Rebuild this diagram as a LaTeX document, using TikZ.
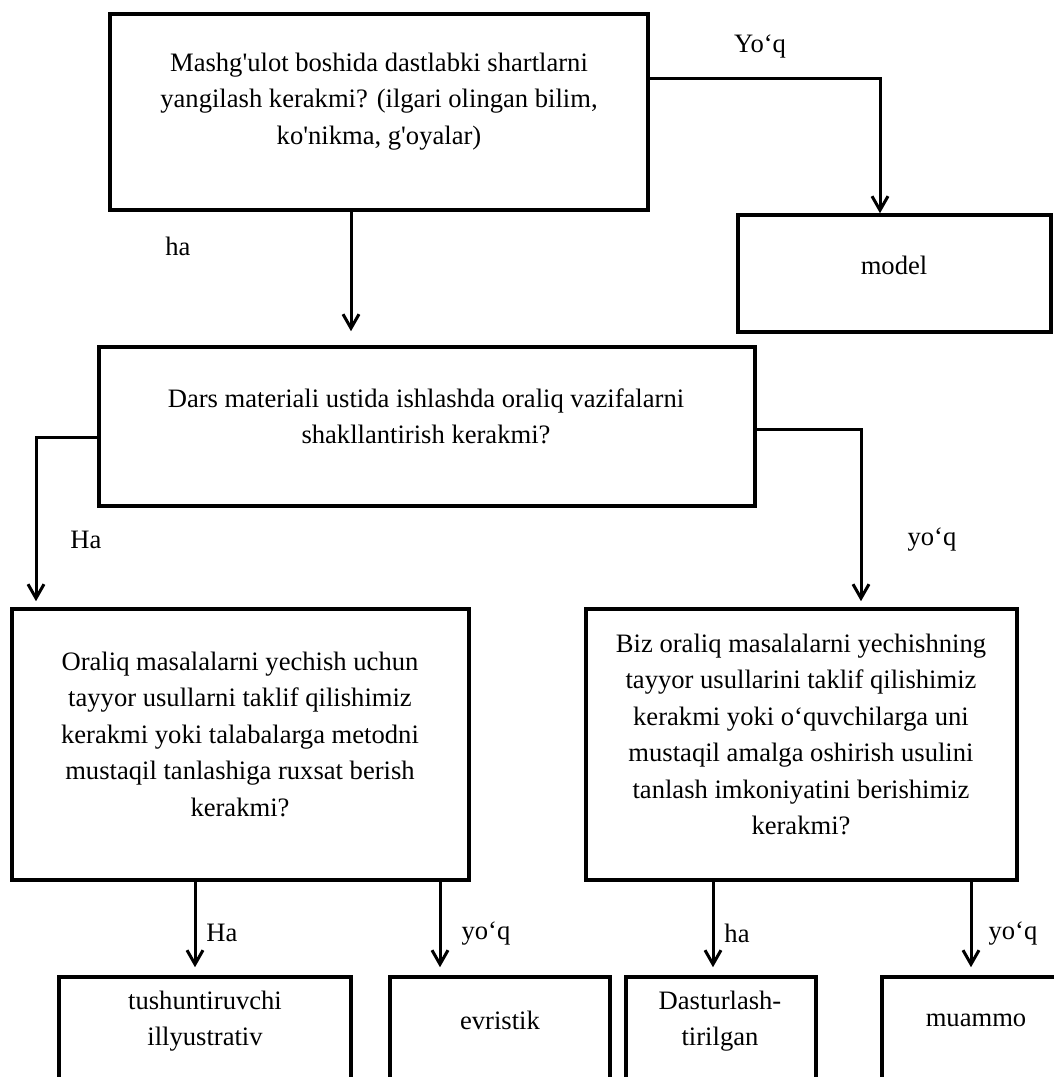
\documentclass[tikz,border=0pt]{standalone}
\usepackage{fontspec}
\setmainfont{Liberation Serif}
\usetikzlibrary{arrows.meta,calc}
\begin{document}
\begin{tikzpicture}[x=1pt,y=-1pt,
  box/.style={draw,line width=3.6pt,rectangle,inner sep=0pt},
  txt/.style={align=center,font=\fontsize{26.6}{36.5}\selectfont,inner sep=0pt},
  lbl/.style={font=\fontsize{26.6}{36.5}\selectfont,inner sep=0pt},
  arr/.style={line width=3pt,-{Straight Barb[length=14pt,width=16pt]}}]
\useasboundingbox (0,0) rectangle (1054,1077);
\fill[white] (0,0) rectangle (1054,1077);
\clip (0,0) rectangle (1054,1077);

% boxes
\node[box,minimum width=538,minimum height=196] (b1) at (379,112) {};
\node[box,minimum width=313,minimum height=117] (b0) at (894.5,273.5) {};
\node[box,minimum width=656,minimum height=159] (b2) at (427,426.5) {};
\node[box,minimum width=457,minimum height=271] (b3) at (240.5,744.5) {};
\node[box,minimum width=431,minimum height=271] (b4) at (801.5,744.5) {};
\node[box,minimum width=292,minimum height=150] (b5) at (205,1052) {};
\node[box,minimum width=220,minimum height=150] (b6) at (500,1052) {};
\node[box,minimum width=190,minimum height=150] (b7) at (721,1052) {};
\node[box,minimum width=188,minimum height=150] (b8) at (976,1052) {};

% texts
\node[txt] (t1) at (379,101.5) {Mashg\textquotesingle ulot boshida dastlabki shartlarni\\yangilash kerakmi? (ilgari olingan bilim,\\ko\textquotesingle nikma, g\textquotesingle oyalar)};
\node[txt] (t0) at (894,265) {model};
\node[txt] (t2) at (426,416.5) {Dars materiali ustida ishlashda oraliq vazifalarni\\shakllantirish kerakmi?};
\node[txt] (t3) at (240,734) {Oraliq masalalarni yechish uchun\\tayyor usullarni taklif qilishimiz\\kerakmi yoki talabalarga metodni\\mustaqil tanlashiga ruxsat berish\\kerakmi?};
\node[txt] (t4) at (801,734.5) {Biz oraliq masalalarni yechishning\\tayyor usullarini taklif qilishimiz\\kerakmi yoki o‘quvchilarga uni\\mustaqil amalga oshirish usulini\\tanlash imkoniyatini berishimiz\\kerakmi?};
\node[txt] (t5) at (205,1021) {tushuntiruvchi\\illyustrativ};
\node[txt] (t6) at (500,1020) {evristik};
\node[txt] (t7) at (720,1021) {Dasturlash-\\tirilgan};
\node[txt] (t8) at (976,1020) {muammo};

% labels
\node[lbl] (l1) at (760,46.5) {Yo‘q};
\node[lbl] (l2) at (178,246) {ha};
\node[lbl] (l3) at (86,540) {Ha};
\node[lbl] (l4) at (932,540) {yo‘q};
\node[lbl] (l5) at (222,933) {Ha};
\node[lbl] (l6) at (486,933) {yo‘q};
\node[lbl] (l7) at (737,933) {ha};
\node[lbl] (l8) at (1013,933) {yo‘q};

% connector points
\coordinate (c1) at (880,78);
\coordinate (x1) at (351,0);
\coordinate (c2) at (36,437);
\coordinate (c3) at (861,429);
\coordinate (x4) at (195,0);
\coordinate (x5) at (440,0);
\coordinate (x6) at (713,0);
\coordinate (x7) at (971,0);

% connectors
\draw[arr] (b1.east |- c1) -- (c1) -- (c1 |- b0.north);
\draw[arr,shorten >=14pt] (b1.south -| x1) -- (b2.north -| x1);
\draw[arr,shorten >=6pt] (b2.west |- c2) -- (c2) -- (c2 |- b3.north);
\draw[arr,shorten >=6pt] (b2.east |- c3) -- (c3) -- (c3 |- b4.north);
\draw[arr,shorten >=8pt] (b3.south -| x4) -- (b5.north -| x4);
\draw[arr,shorten >=8pt] (b3.south -| x5) -- (b6.north -| x5);
\draw[arr,shorten >=8pt] (b4.south -| x6) -- (b7.north -| x6);
\draw[arr,shorten >=8pt] (b4.south -| x7) -- (b8.north -| x7);
\end{tikzpicture}
\end{document}
